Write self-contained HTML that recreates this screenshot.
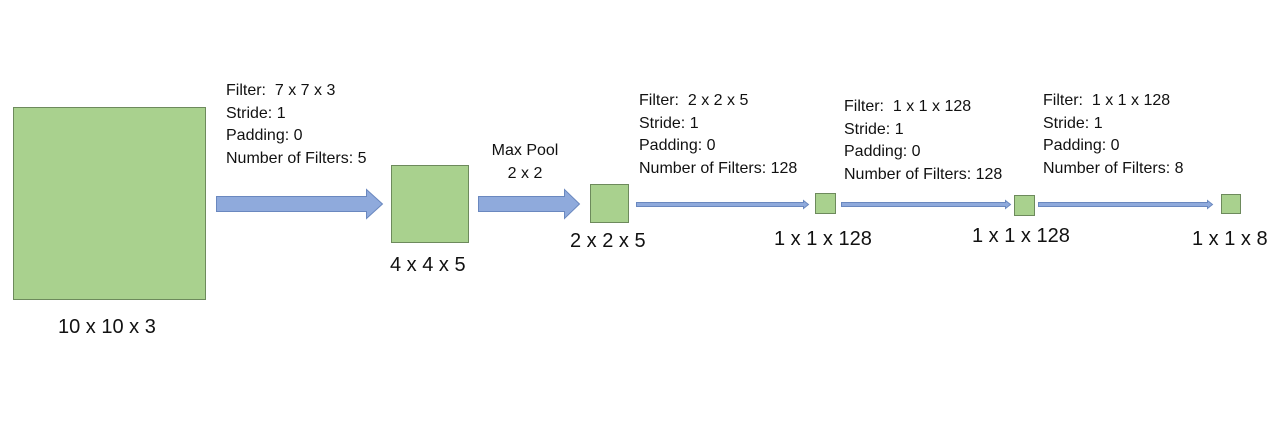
<!DOCTYPE html>
<html><head><meta charset="utf-8"><style>
body{margin:0;width:1280px;height:431px;background:#fff;position:relative;overflow:hidden;font-family:"Liberation Sans",sans-serif;color:#111}
.t{position:absolute;font-size:16px;line-height:22.5px;white-space:nowrap}
.d{position:absolute;font-size:20px;white-space:nowrap}
</style></head><body>
<svg width="1280" height="431" style="position:absolute;left:0;top:0">
<g fill="#a9d18e" stroke="#6d8a5c" stroke-width="1">
<rect x="13.5" y="107.5" width="192" height="192"/>
<rect x="391.5" y="165.5" width="77" height="77"/>
<rect x="590.5" y="184.5" width="38" height="38"/>
<rect x="815.5" y="193.5" width="20" height="20"/>
<rect x="1014.5" y="195.5" width="20" height="20"/>
<rect x="1221.5" y="194.5" width="19" height="19"/>
</g>
<g fill="#8faadc" stroke="#6a88bf" stroke-width="1">
<polygon points="216.5,196.5 366.5,196.5 366.5,189.5 382.5,204 366.5,218.5 366.5,211.5 216.5,211.5"/>
<polygon points="478.5,196.5 564.5,196.5 564.5,189.5 579.5,204 564.5,218.5 564.5,211.5 478.5,211.5"/>
<polygon points="636.5,202.5 803.5,202.5 803.5,200.5 808.5,204.5 803.5,208.5 803.5,206.5 636.5,206.5"/>
<polygon points="841.5,202.5 1005.5,202.5 1005.5,200.5 1010.5,204.5 1005.5,208.5 1005.5,206.5 841.5,206.5"/>
<polygon points="1038.5,202.5 1207.5,202.5 1207.5,200.5 1212.5,204.5 1207.5,208.5 1207.5,206.5 1038.5,206.5"/>
</g>
</svg>
<div class="t" style="left:226px;top:80px">Filter:&nbsp; 7 x 7 x 3<br>Stride: 1<br>Padding: 0<br>Number of Filters: 5</div>
<div class="t" style="left:484px;top:140px;text-align:center;width:82px">Max Pool<br>2 x 2</div>
<div class="t" style="left:639px;top:90px">Filter:&nbsp; 2 x 2 x 5<br>Stride: 1<br>Padding: 0<br>Number of Filters: 128</div>
<div class="t" style="left:844px;top:96px">Filter:&nbsp; 1 x 1 x 128<br>Stride: 1<br>Padding: 0<br>Number of Filters: 128</div>
<div class="t" style="left:1043px;top:90px">Filter:&nbsp; 1 x 1 x 128<br>Stride: 1<br>Padding: 0<br>Number of Filters: 8</div>
<div class="d" style="left:58px;top:316px">10 x 10 x 3</div>
<div class="d" style="left:390px;top:254px">4 x 4 x 5</div>
<div class="d" style="left:570px;top:230px">2 x 2 x 5</div>
<div class="d" style="left:774px;top:228px">1 x 1 x 128</div>
<div class="d" style="left:972px;top:225px">1 x 1 x 128</div>
<div class="d" style="left:1192px;top:228px">1 x 1 x 8</div>
</body></html>
